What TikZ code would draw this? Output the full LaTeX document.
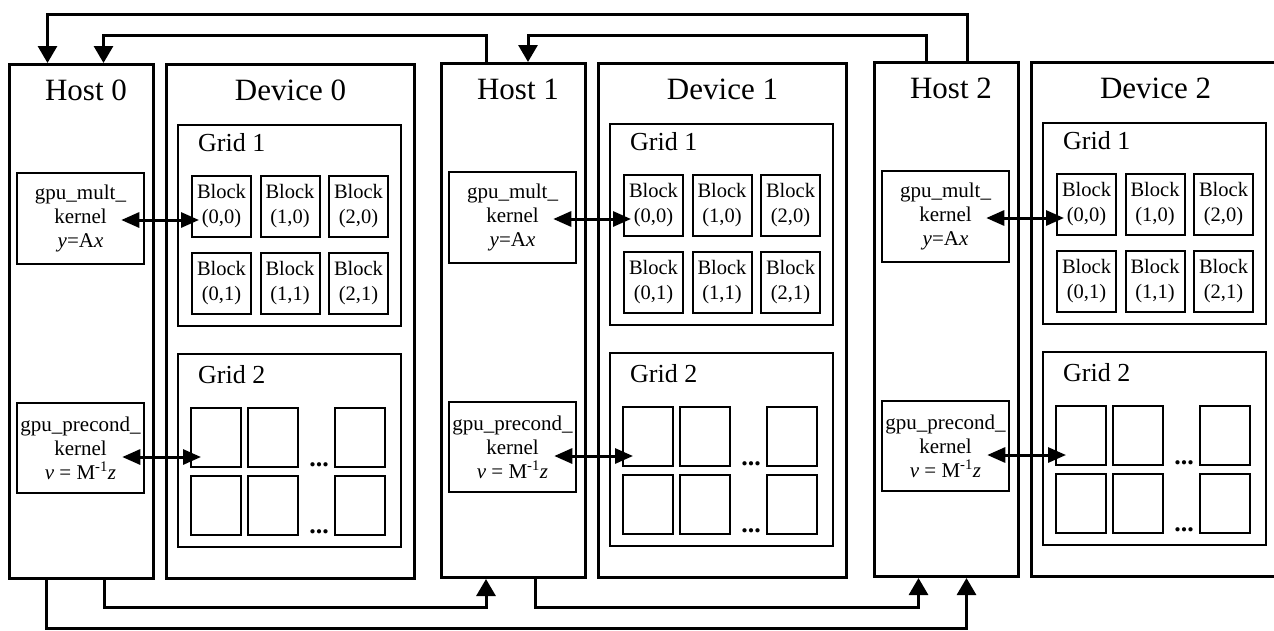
\documentclass[tikz,border=0pt]{standalone}
\usepackage{fontspec}
\setmainfont{Liberation Serif}
\usetikzlibrary{arrows.meta,calc}
\begin{document}
\begin{tikzpicture}[x=1pt,y=-1pt,
  hostbox/.style={draw,line width=3pt,inner sep=0,minimum width=144pt,minimum height=514pt},
  devbox/.style={draw,line width=3pt,inner sep=0,minimum width=248pt,minimum height=514pt},
  title/.style={font=\fontsize{31}{31}\selectfont,anchor=base,inner sep=0},
  gridbox/.style={draw,line width=2.5pt,inner sep=0,minimum width=223pt},
  gridlabel/.style={font=\fontsize{26}{26}\selectfont,anchor=base west,inner sep=0},
  kernel/.style={draw,line width=2.5pt,inner sep=0,minimum width=127pt,minimum height=91pt,align=center,font=\fontsize{21}{24}\selectfont},
  blockbox/.style={draw,line width=2pt,inner sep=0,minimum width=59pt,minimum height=61pt,align=center,font=\fontsize{20.5}{25}\selectfont},
  cellbox/.style={draw,line width=2pt,inner sep=0,minimum width=50pt,minimum height=59pt},
  dots/.style={font=\fontsize{26}{26}\selectfont\bfseries,anchor=base,inner sep=0},
  conn/.style={line width=3pt,-{Triangle[length=17pt,width=19pt]}},
  dbl/.style={line width=3pt,{Triangle[length=18pt,width=15pt]}-{Triangle[length=18pt,width=15pt]}},
]
\useasboundingbox (0,0) rectangle (1274,630);
\clip (0,0) rectangle (1274,630);

\foreach \i/\xo/\yo in {0/0/0,1/432/-1,2/865/-2}{
  % host
  \node[hostbox] (h\i) at ({81+\xo},{321.5+\yo}) {};
  \node[title] (ht\i) at ({86+\xo},{100+\yo}) {Host \i};
  \node[kernel] (km\i) at ({80.5+\xo},{218.5+\yo}) {gpu\_mult\_\\kernel\\\textit{y}=A\textit{x}};
  \node[kernel,minimum height=90pt] (kp\i) at ({80.5+\xo},{448+\yo}) {gpu\_precond\_\\kernel\\\textit{v} = M\textsuperscript{-1}\textit{z}};
  % device
  \node[devbox] (d\i) at ({290.5+\xo},{321.5+\yo}) {};
  \node[title] (dt\i) at ({290.5+\xo},{100+\yo}) {Device \i};
  % grid 1
  \node[gridbox,minimum height=201pt] (ga\i) at ({289.5+\xo},{225.5+\yo}) {};
  \node[gridlabel] (gat\i) at ({198+\xo},{151+\yo}) {Grid 1};
  \foreach \c in {0,1,2}{
    \foreach \r in {0,1}{
      \node[blockbox] (blk\i\c\r) at ({221.5+68.5*\c+\xo},{206.5+77*\r+\yo}) {Block\\(\c,\r)};
    }
  }
  % grid 2
  \node[gridbox,minimum height=193pt] (gb\i) at ({289.5+\xo},{450.5+\yo}) {};
  \node[gridlabel] (gbt\i) at ({198+\xo},{383+\yo}) {Grid 2};
  \foreach \c/\cx in {0/216,1/273,2/360}{
    \foreach \r/\ry in {0/437.5,1/505}{
      \node[cellbox] (cel\i\c\r) at ({\cx+\xo},{\ry+\yo}) {};
    }
  }
  \node[dots] (dta\i) at ({319+\xo},{466+\yo}) {...};
  \node[dots] (dtb\i) at ({319+\xo},{533+\yo}) {...};
  % host-device links
  \draw[dbl] ($(km\i.east)+(-24,1.5)$) -- ($(km\i.east -| blk\i00.west)+(8,1.5)$);
  \draw[dbl] ($(kp\i.east)+(-23,9)$) -- ($(kp\i.east -| cel\i00.west)+(11,9)$);
}

% attachment points
\coordinate (tA) at (0,14);
\coordinate (tB) at (0,35);
\coordinate (bA) at (0,607.5);
\coordinate (bB) at (0,628);

\coordinate (h0t1) at ($(h0.north west)+(40,0)$);
\coordinate (h0t2) at ($(h0.north west)+(96,0)$);
\coordinate (h1t1) at ($(h1.north west)+(46.5,0)$);
\coordinate (h1t2) at ($(h1.north west)+(88.5,0)$);
\coordinate (h2t1) at ($(h2.north west)+(54,0)$);
\coordinate (h2t2) at ($(h2.north west)+(94.5,0)$);

\coordinate (h0b1) at ($(h0.south west)+(39,0)$);
\coordinate (h0b2) at ($(h0.south west)+(97,0)$);
\coordinate (h1b1) at ($(h1.south west)+(46.5,0)$);
\coordinate (h1b2) at ($(h1.south west)+(95.5,0)$);
\coordinate (h2b1) at ($(h2.south west)+(46,0)$);
\coordinate (h2b2) at ($(h2.south west)+(94,0)$);

% top connectors
\draw[conn] (h2t2) -- (h2t2 |- tA) -- (h0t1 |- tA) -- (h0t1);
\draw[conn] (h1t1) -- (h1t1 |- tB) -- (h0t2 |- tB) -- (h0t2);
\draw[conn] (h2t1) -- (h2t1 |- tB) -- (h1t2 |- tB) -- (h1t2);

% bottom connectors
\draw[conn] (h0b1) -- (h0b1 |- bB) -- (h2b2 |- bB) -- (h2b2);
\draw[conn] (h0b2) -- (h0b2 |- bA) -- (h1b1 |- bA) -- (h1b1);
\draw[conn] (h1b2) -- (h1b2 |- bA) -- (h2b1 |- bA) -- (h2b1);
\end{tikzpicture}
\end{document}
